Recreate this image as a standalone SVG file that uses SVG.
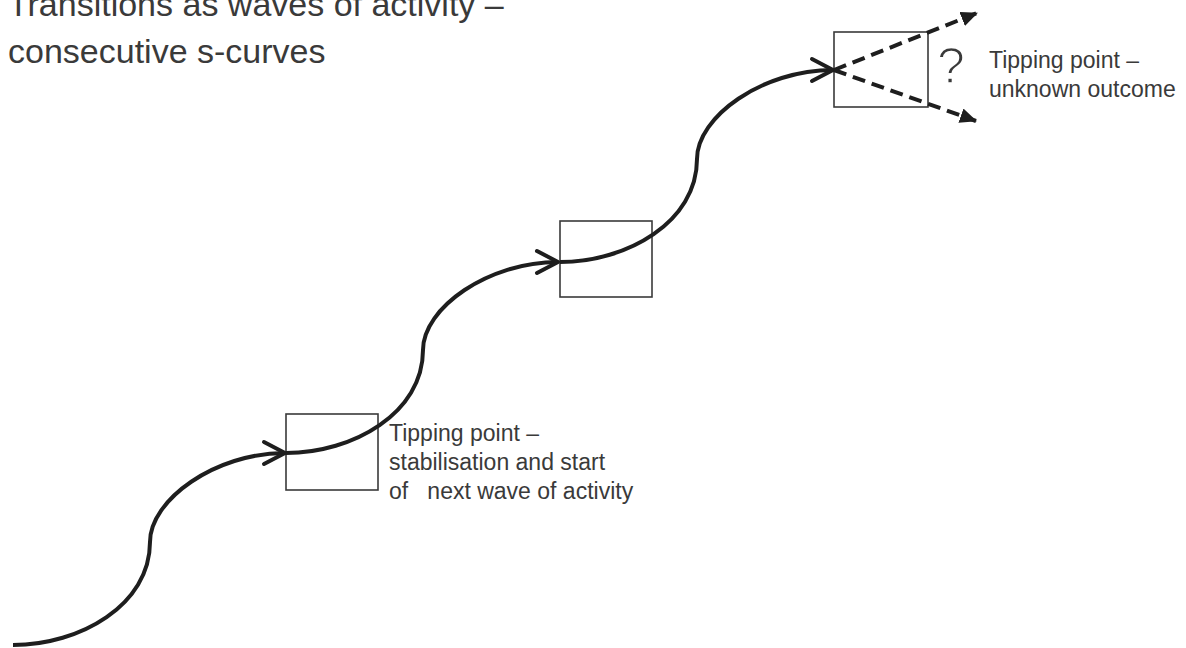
<svg xmlns="http://www.w3.org/2000/svg" width="1186" height="648" viewBox="0 0 1186 648">
  <style>
    .title { font-family: "Liberation Sans", Arial, sans-serif; font-size: 34px; fill: #3a3a3a; }
    .label { font-family: "Liberation Sans", Arial, sans-serif; font-size: 23px; fill: #3a3a3a; }
    .q { font-family: "Liberation Sans", Arial, sans-serif; font-size: 50px; fill: #3a3a3a; stroke: #ffffff; stroke-width: 1.4; }
    .box { fill: none; stroke: #3a3a3a; stroke-width: 1.6; }
    .wave { fill: none; stroke: #1e1e1e; stroke-width: 4; marker-end: url(#chev); }
    .dash { fill: none; stroke: #1e1e1e; stroke-width: 4; stroke-dasharray: 13 7; marker-end: url(#tri); }
  </style>
  <defs>
    <marker id="chev" markerUnits="userSpaceOnUse" viewBox="-26 -15 30 30" refX="0" refY="0" markerWidth="30" markerHeight="30" orient="auto" overflow="visible">
      <path d="M-21,-11 L0,0 L-21,11" fill="none" stroke="#1e1e1e" stroke-width="4" stroke-linecap="round" stroke-linejoin="round"/>
    </marker>
    <marker id="tri" markerUnits="userSpaceOnUse" viewBox="0 0 17 15" refX="16" refY="7.5" markerWidth="17" markerHeight="15" orient="auto">
      <path d="M0,0 L17,7.5 L0,15 z" fill="#1e1e1e"/>
    </marker>
  </defs>

  <g id="title">
    <text class="title" x="8" y="16">Transitions as waves of activity –</text>
    <text class="title" x="8" y="63">consecutive s-curves</text>
  </g>

  <g id="node1">
    <rect class="box" x="286" y="414" width="92" height="76"/>
    <text class="label" x="389" y="441">Tipping point –</text>
    <text class="label" x="389" y="470">stabilisation and start</text>
    <text class="label" x="389" y="499" xml:space="preserve">of   next wave of activity</text>
  </g>

  <g id="node2">
    <rect class="box" x="560" y="221" width="92" height="76"/>
  </g>

  <g id="node3">
    <rect class="box" x="834" y="32" width="94" height="75"/>
    <text class="q" x="951" y="83" text-anchor="middle">?</text>
    <text class="label" x="989" y="68">Tipping point –</text>
    <text class="label" x="989" y="97">unknown outcome</text>
  </g>

  <g id="connectors">
    <path class="wave" d="M13,645 C80,645 150,605 150,542 C150,500 215,453 285,453"/>
    <path class="wave" d="M286,453 C353,453 423,413 423,350 C423,308 488,262 558,262"/>
    <path class="wave" d="M560,262 C627,262 697,222 697,159 C697,117 762,70 833,70"/>
    <path class="dash" d="M834,70 L977,13"/>
    <path class="dash" d="M834,70 L976,121"/>
  </g>
</svg>
